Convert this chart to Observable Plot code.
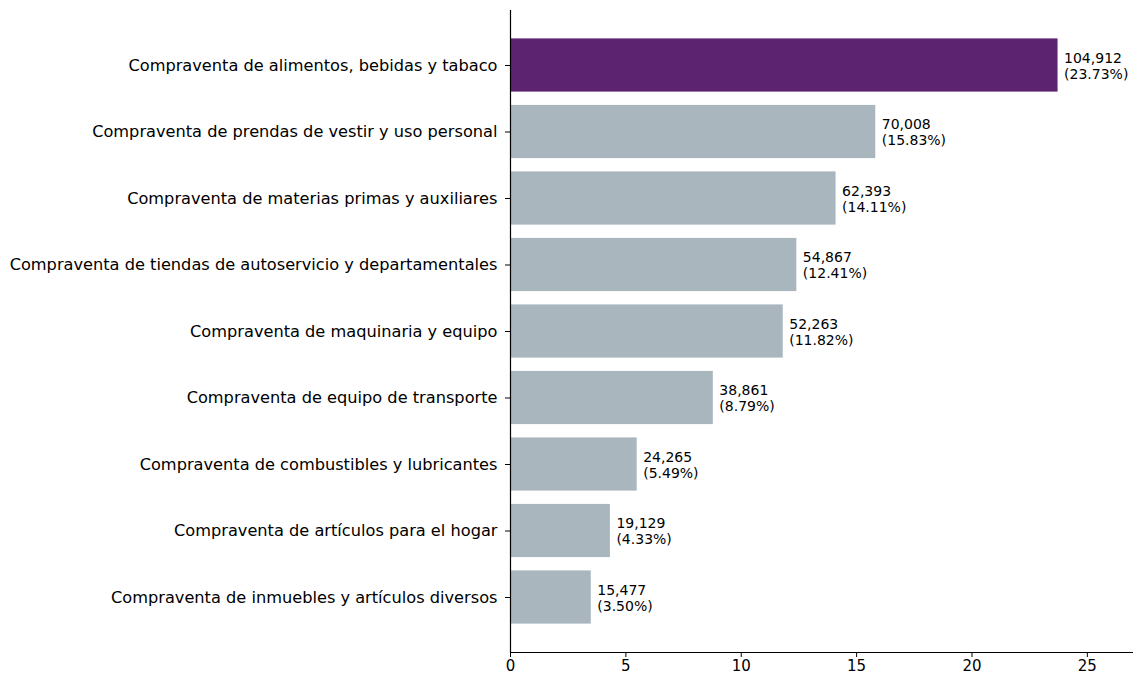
<!DOCTYPE html>
<html>
<head>
<meta charset="utf-8">
<script src="https://cdn.jsdelivr.net/npm/d3@7"></script>
<script src="https://cdn.jsdelivr.net/npm/@observablehq/plot@0.6"></script>
<style>
  body { margin: 0; background: #fff; }
  #chart svg { font-family: "DejaVu Sans", sans-serif; }
</style>
</head>
<body>
<div id="chart"></div>
<script>
const categories = [
  "Compraventa de alimentos, bebidas y tabaco",
  "Compraventa de prendas de vestir y uso personal",
  "Compraventa de materias primas y auxiliares",
  "Compraventa de tiendas de autoservicio y departamentales",
  "Compraventa de maquinaria y equipo",
  "Compraventa de equipo de transporte",
  "Compraventa de combustibles y lubricantes",
  "Compraventa de artículos para el hogar",
  "Compraventa de inmuebles y artículos diversos"
];
const counts = [104912, 70008, 62393, 54867, 52263, 38861, 24265, 19129, 15477];
const percents = [23.73, 15.83, 14.11, 12.41, 11.82, 8.79, 5.49, 4.33, 3.50];
const xTicks = [0, 5, 10, 15, 20, 25];

const data = categories.map((c, i) => ({
  category: c,
  count: counts[i],
  pct: percents[i],
  top: i === 0,
  label: d3.format(",")(counts[i]) + "\n(" + percents[i].toFixed(2) + "%)"
}));

const chart = Plot.plot({
  width: 1133,
  height: 675,
  marginLeft: 510,
  marginRight: 0,
  marginTop: 10,
  marginBottom: 23,
  x: { domain: [0, 27.0] },
  y: { domain: categories, paddingInner: 0.2, paddingOuter: 0.427, round: false },
  marks: [
    Plot.barX(data, {
      y: "category",
      x: "pct",
      fill: d => d.top ? "#5c2470" : "#a9b6be"
    }),
    Plot.text(data, {
      y: "category",
      x: "pct",
      text: "label",
      textAnchor: "start",
      lineAnchor: "middle",
      dx: 6,
      fontSize: 14,
      lineHeight: 1.15,
      fill: "#000"
    }),
    Plot.axisY({ tickSize: 5, tickPadding: 8, fontSize: 16.2, label: null, color: "#000" }),
    Plot.axisX({ ticks: xTicks, tickSize: 5, tickPadding: 3, fontSize: 15, label: null, color: "#000" }),
    Plot.ruleX([0], { stroke: "#000", strokeWidth: 1.2 }),
    Plot.frame({ anchor: "bottom", stroke: "#000", strokeWidth: 1.2 })
  ]
});
document.getElementById("chart").appendChild(chart);
</script>
</body>
</html>
